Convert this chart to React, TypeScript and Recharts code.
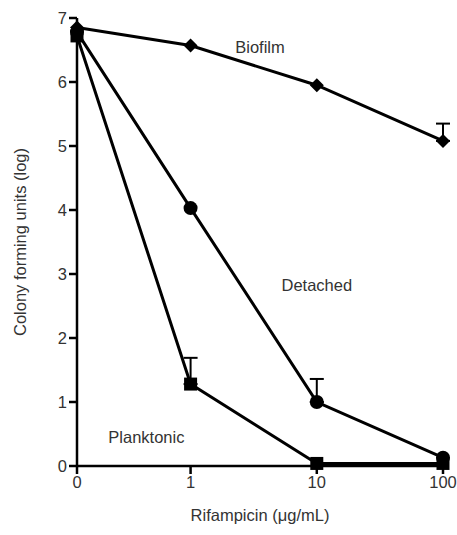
import React from 'react';
import { LineChart, Line, XAxis, YAxis, ErrorBar, ReferenceDot } from 'recharts';

// Rifampicin doses (x axis is log-like, with 0 placed at a break before 1)
const DOSE_LABELS = ['0', '1', '10', '100'];
const DOSE_POS = [-0.9, 0, 1, 2];

// log CFU per condition
const BIOFILM = [6.85, 6.57, 5.95, 5.08];
const DETACHED = [6.78, 4.03, 1.0, 0.13];
const PLANKTONIC = [6.72, 1.28, 0.04, 0.04];

// upward SD (only some points have one)
const BIOFILM_ERR = [null, null, null, 0.27];
const DETACHED_ERR = [null, null, 0.36, null];
const PLANKTONIC_ERR = [null, 0.41, null, null];

const Y_TICKS = [0, 1, 2, 3, 4, 5, 6, 7];

const SERIES_LABELS = [
  { text: 'Biofilm', x: 0.55, y: 6.55 },
  { text: 'Detached', x: 1.0, y: 2.83 },
  { text: 'Planktonic', x: -0.35, y: 0.45 },
];

const up = (e: number | null) => (e == null ? null : [0, e]);

const data = DOSE_POS.map((x, i) => ({
  x,
  biofilm: BIOFILM[i],
  detached: DETACHED[i],
  planktonic: PLANKTONIC[i],
  biofilmErr: up(BIOFILM_ERR[i]),
  detachedErr: up(DETACHED_ERR[i]),
  planktonicErr: up(PLANKTONIC_ERR[i]),
}));

const TEXT = '#333';
const FONT = '"Liberation Sans", Arial, sans-serif';
const FS = 16.5;

const diamond = (props: any) => {
  const { cx, cy, index } = props;
  const s = 7;
  return (
    <path
      key={`d-${index}`}
      d={`M${cx},${cy - s} L${cx + s},${cy} L${cx},${cy + s} L${cx - s},${cy} Z`}
      fill="#000"
    />
  );
};

const circle = (props: any) => {
  const { cx, cy, index } = props;
  return <circle key={`c-${index}`} cx={cx} cy={cy} r={7} fill="#000" />;
};

const square = (props: any) => {
  const { cx, cy, index } = props;
  return <rect key={`s-${index}`} x={cx - 6.5} y={cy - 6.5} width={13} height={13} fill="#000" />;
};

export default function App() {
  return (
    <div style={{ position: 'absolute', left: 0, top: 0, background: '#fff' }}>
      <LineChart
        width={457}
        height={535}
        data={data}
        margin={{ top: 18, right: 14, bottom: 39, left: 17 }}
        style={{ fontFamily: FONT }}
      >
        <XAxis
          type="number"
          dataKey="x"
          domain={[-0.9, 2]}
          ticks={DOSE_POS}
          tickFormatter={(v: number) => DOSE_LABELS[DOSE_POS.indexOf(v)] ?? ''}
          stroke="#000"
          strokeWidth={2.5}
          tickSize={8}
          tick={{ fill: TEXT, fontSize: FS }}
          label={{ value: 'Rifampicin (μg/mL)', position: 'bottom', offset: 13, fill: TEXT, fontSize: FS }}
        />
        <YAxis
          type="number"
          domain={[0, 7]}
          ticks={Y_TICKS}
          width={60}
          stroke="#000"
          strokeWidth={2.5}
          tickSize={8}
          tick={{ fill: TEXT, fontSize: FS }}
          label={{
            value: 'Colony forming units (log)',
            angle: -90,
            position: 'insideLeft',
            offset: 3,
            fill: TEXT,
            fontSize: FS,
            style: { textAnchor: 'middle' },
          }}
        />
        <Line
          dataKey="planktonic"
          stroke="#000"
          strokeWidth={3}
          dot={square}
          activeDot={false}
          isAnimationActive={false}
        >
          <ErrorBar dataKey="planktonicErr" direction="y" width={7} stroke="#000" strokeWidth={2} />
        </Line>
        <Line
          dataKey="detached"
          stroke="#000"
          strokeWidth={3}
          dot={circle}
          activeDot={false}
          isAnimationActive={false}
        >
          <ErrorBar dataKey="detachedErr" direction="y" width={7} stroke="#000" strokeWidth={2} />
        </Line>
        <Line
          dataKey="biofilm"
          stroke="#000"
          strokeWidth={3}
          dot={diamond}
          activeDot={false}
          isAnimationActive={false}
        >
          <ErrorBar dataKey="biofilmErr" direction="y" width={7} stroke="#000" strokeWidth={2} />
        </Line>
        {SERIES_LABELS.map((l) => (
          <ReferenceDot
            key={l.text}
            x={l.x}
            y={l.y}
            r={0}
            stroke="none"
            fill="none"
            label={{ value: l.text, position: 'center', fill: TEXT, fontSize: FS }}
          />
        ))}
      </LineChart>
    </div>
  );
}
